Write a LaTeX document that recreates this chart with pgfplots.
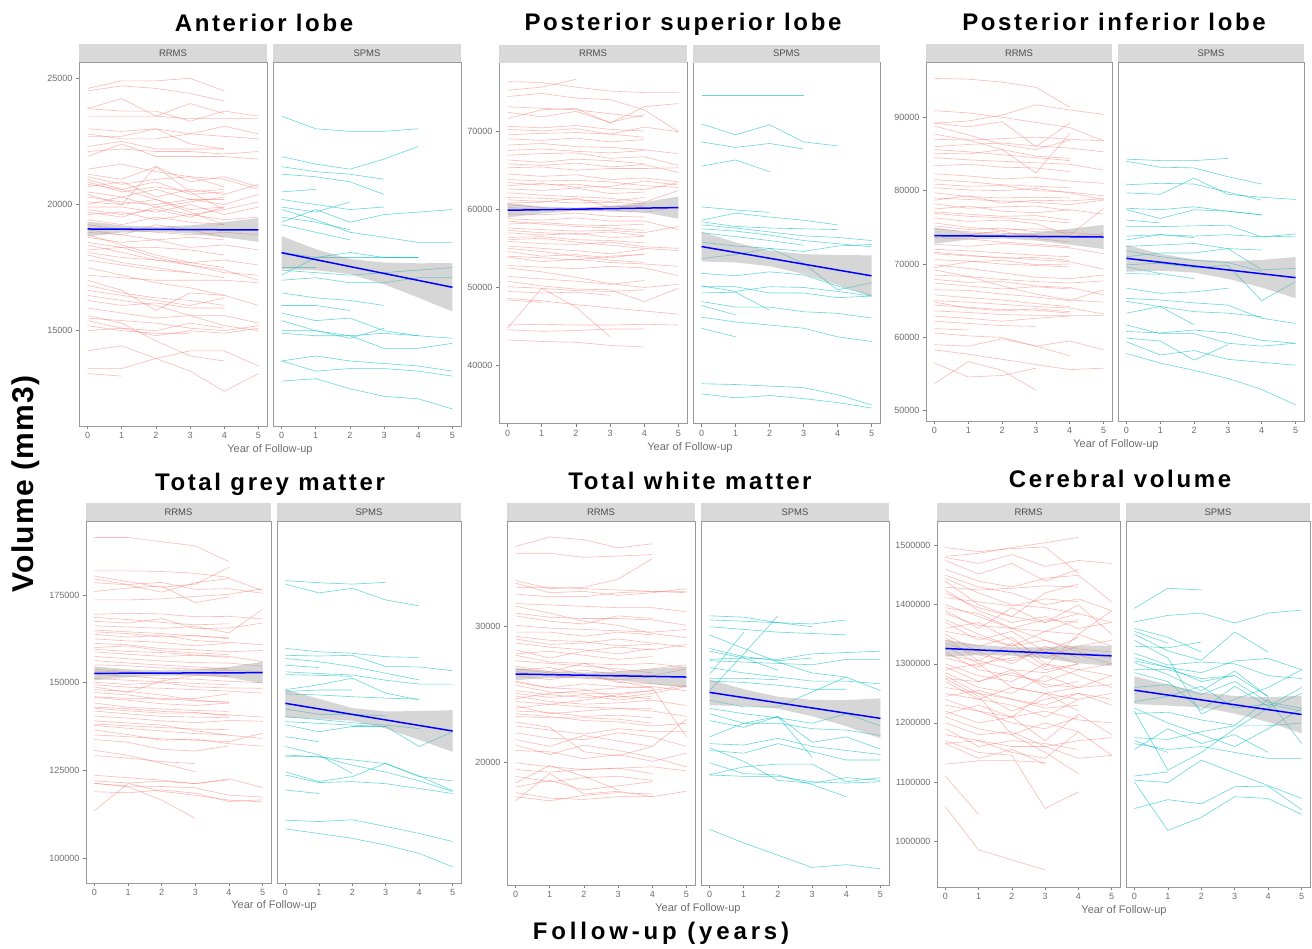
\documentclass[border=0pt]{standalone}
\usepackage{fontspec}
\setmainfont{Liberation Sans}
\newfontfamily\ttlfont{Liberation Sans}[LetterSpace=11]
\newfontfamily\volfont{Liberation Sans}[LetterSpace=4]
\newfontfamily\fufont{Liberation Sans}[LetterSpace=16]
\usepackage{pgfplots}
\pgfplotsset{compat=1.18}

\definecolor{rrc}{HTML}{F8766D}
\definecolor{spc}{HTML}{00BFC4}
\definecolor{stripc}{HTML}{D9D9D9}
\definecolor{stript}{HTML}{4D4D4D}
\definecolor{bordc}{HTML}{999999}
\definecolor{tickc}{HTML}{808080}
\definecolor{labc}{HTML}{6E6E6E}
\definecolor{grey60}{HTML}{999999}

\pgfplotsset{
  facet/.style={scale only axis, width=#1, xmin=-0.25, xmax=5.25,
    xtick={0,1,2,3,4,5}, xticklabels={0,1,2,3,4,5},
    tick pos=left, tick align=outside, major tick length=3pt,
    axis line style={draw=bordc, line width=0.6pt},
    tick style={draw=tickc, line width=0.6pt},
    tick label style={font=\fontsize{9}{10}\selectfont, text=labc},
    every axis title shift=0pt,
    title style={at={(0.5,1)}, anchor=south, fill=stripc,
      minimum width=#1, minimum height=18pt, inner sep=0pt,
      font=\fontsize{9.5}{10}\selectfont, text=stript},
    anchor=north west},
  rr/.style={draw=rrc, draw opacity=0.5, line width=0.6pt},
  sp/.style={draw=spc, draw opacity=0.6, line width=0.6pt},
  band/.style={draw=none, fill=grey60, fill opacity=0.4},
  fit/.style={draw=blue, line width=1.5pt},
}
\newcommand\rrl[1]{\addplot[rr] coordinates {#1};}
\newcommand\spl[1]{\addplot[sp] coordinates {#1};}

\begin{document}
\begin{tikzpicture}
\fill[white] (0pt,0pt) rectangle (1312pt,-948pt);
\path[use as bounding box] (0pt,0pt) rectangle (1312pt,-948pt);

% ---------------- Anterior lobe ----------------
\begin{axis}[facet=188pt, height=364pt, at={(79pt,-62pt)}, title={RRMS},
  ymin=11.224, ymax=25.646, ytick={15,20,25}, yticklabels={15000,20000,25000}]
\rrl{(0,24.6)(1,24.9)(2,24.9)(3,25.0)(4,24.5)}
\rrl{(0,24.5)(1,24.7)(2,24.6)(3,24.4)(4,24.1)}
\rrl{(0,23.8)(1,24.2)(2,23.5)(3,24.0)(4,23.6)}
\rrl{(0,23.8)(1,23.7)(2,23.7)(3,23.3)(4,23.7)(5,23.5)}
\rrl{(0,23.5)(1,23.5)(2,23.5)(3,23.4)(4,23.4)(5,23.4)}
\rrl{(0,23.0)(1,22.9)(2,23.0)(3,22.8)(4,23.1)(5,22.8)}
\rrl{(0,22.8)(1,22.6)(2,22.6)(3,22.8)(4,22.7)(5,22.6)}
\rrl{(0,22.7)(1,22.7)(2,23.0)(3,22.4)(4,22.2)}
\rrl{(0,22.3)(1,22.5)(2,22.2)(3,22.2)(4,22.2)}
\rrl{(0,21.9)(1,22.4)(2,21.9)(3,21.9)(4,21.9)(5,21.8)}
\rrl{(0,22.1)(1,22.2)(2,22.1)(3,22.1)(4,22.0)(5,22.1)}
\rrl{(0,21.4)(1,21.6)(2,21.3)(3,21.1)(4,21.0)(5,20.6)}
\rrl{(0,21.2)(1,21.0)(2,21.5)(3,20.9)(4,21.1)(5,20.7)}
\rrl{(0,21.1)(1,20.8)(2,21.0)(3,21.1)(4,20.7)}
\rrl{(0,20.9)(1,20.5)(2,20.7)(3,20.5)(4,20.6)}
\rrl{(0,20.7)(1,20.9)(2,20.3)(3,20.6)(4,20.4)(5,20.8)}
\rrl{(0,20.5)(1,20.3)(2,20.6)(3,20.2)(4,20.2)}
\rrl{(0,20.3)(1,20.1)(2,20.0)(3,20.2)(4,20.0)(5,20.4)}
\rrl{(0,20.1)(1,20.0)(2,20.2)(3,19.8)(4,19.9)}
\rrl{(0,19.9)(1,19.9)(2,19.7)(3,20.0)(4,19.6)(5,19.9)}
\rrl{(0,19.8)(1,19.6)(2,19.8)(3,19.5)(4,19.9)}
\rrl{(0,19.6)(1,19.7)(2,19.4)(3,19.6)(4,19.4)(5,19.5)}
\rrl{(0,19.4)(1,19.2)(2,19.5)(3,19.3)(4,19.2)}
\rrl{(0,19.2)(1,19.0)(2,18.9)(3,18.8)(4,18.9)(5,18.8)}
\rrl{(0,18.9)(1,18.8)(2,18.6)(3,18.7)(4,18.6)}
\rrl{(0,18.7)(1,18.5)(2,18.6)(3,18.3)(4,18.4)(5,18.2)}
\rrl{(0,18.5)(1,18.3)(2,18.3)(3,18.2)(4,18.0)}
\rrl{(0,18.1)(1,17.9)(2,17.8)(3,17.7)(4,17.8)(5,17.6)}
\rrl{(0,18.0)(1,17.7)(2,17.5)(3,17.3)(4,17.1)}
\rrl{(0,17.8)(1,17.6)(2,17.4)(3,17.3)}
\rrl{(0,17.5)(1,17.2)(2,16.9)(3,16.7)(4,16.4)(5,16.0)}
\rrl{(0,17.2)(1,17.1)(2,17.0)(3,17.0)(4,17.0)(5,16.9)}
\rrl{(0,16.8)(1,16.5)(2,16.3)(3,16.2)(4,16.0)}
\rrl{(0,16.6)(1,16.4)(2,16.2)(3,16.0)(4,16.3)}
\rrl{(0,16.2)(1,16.0)(2,16.1)(3,15.9)(4,15.9)}
\rrl{(0,15.9)(1,15.7)(2,15.5)(3,15.6)(4,15.6)(5,15.3)}
\rrl{(0,15.5)(1,15.4)(2,15.3)(3,15.1)(4,15.0)(5,15.2)}
\rrl{(0,15.4)(1,15.1)(2,15.0)(3,15.3)(4,15.1)}
\rrl{(0,15.2)(1,15.0)(2,14.9)(3,14.9)}
\rrl{(0,15.0)(1,15.1)(2,14.8)(3,15.0)(4,14.9)(5,15.1)}
\rrl{(0,14.2)(1,14.4)(2,13.9)(3,14.2)(4,14.2)(5,13.6)}
\rrl{(0,13.5)(1,13.5)(2,13.9)(3,13.4)(4,12.6)(5,13.3)}
\rrl{(0,13.3)(1,13.2)}
\rrl{(0,15.6)(1,15.3)(2,14.6)(3,14.0)(4,13.8)}
\rrl{(0,19.0)(1,18.8)(2,19.2)(3,19.0)(4,18.7)}
\rrl{(0,20.4)(1,20.0)(2,21.5)(3,20.5)(4,19.8)}
\rrl{(0,17.0)(1,16.6)(2,15.8)(3,16.5)(4,16.4)}
\rrl{(0,20.8)(1,20.6)(2,20.9)(3,20.4)(4,20.5)}
\rrl{(0,20.0)(1,20.3)(2,19.9)(3,20.1)(4,20.3)}
\rrl{(0,19.7)(1,19.5)(2,19.9)(3,19.6)(4,19.8)(5,20.1)}
\rrl{(0,18.4)(1,18.1)(2,17.8)(3,17.6)(4,17.4)(5,17.0)}
\rrl{(0,18.8)(1,18.4)(2,18.0)(3,17.7)(4,17.5)}
\rrl{(0,21.0)(1,20.6)(2,20.2)(3,19.7)(4,19.2)}
\rrl{(0,16.4)(1,16.2)(2,16.0)(3,15.6)(4,15.2)(5,15.0)}
\rrl{(0,18.2)(1,18.3)(2,17.9)(3,17.6)(4,17.3)(5,17.2)}
\addplot[band] coordinates {(0,19.33)(1,19.17)(2,19.12)(3,19.17)(4,19.30)(5,19.46)(5,18.52)(4,18.70)(3,18.85)(2,18.92)(1,18.89)(0,18.73)};
\addplot[fit] coordinates {(0,19.03)(5,18.99)};
\end{axis}

\begin{axis}[facet=188pt, height=364pt, at={(273pt,-62pt)}, title={SPMS},
  ymin=11.224, ymax=25.646, ytick=\empty]
\spl{(0,23.5)(1,23.0)(2,22.9)(3,22.9)(4,23.0)}
\spl{(0,21.9)(1,21.6)(2,21.4)(3,21.8)(4,22.3)}
\spl{(0,21.5)(1,21.3)(2,21.2)(3,21.0)}
\spl{(0,21.2)(1,21.1)(2,20.9)(3,20.4)}
\spl{(0,20.5)(1,20.6)}
\spl{(0,20.2)(1,20.0)(2,19.8)(3,19.9)}
\spl{(0,19.9)(1,19.7)(2,20.1)}
\spl{(0,19.8)(1,19.4)(2,18.9)(3,18.7)(4,18.5)(5,18.5)}
\spl{(0,19.5)(1,19.3)(2,19.0)}
\spl{(0,19.3)(1,19.8)(2,19.3)(3,19.6)(4,19.7)(5,19.8)}
\spl{(0,19.2)(1,18.9)(2,18.6)}
\spl{(0,18.1)(1,17.9)(2,17.9)(3,17.9)(4,17.9)}
\spl{(0,17.5)(1,17.5)}
\spl{(0,17.2)(1,17.9)(2,18.1)(3,17.9)(4,17.9)}
\spl{(0,17.4)(1,17.3)(2,17.2)(3,17.3)(4,17.4)(5,17.5)}
\spl{(0,17.0)(1,17.1)(2,16.9)(3,16.9)(4,17.1)(5,17.1)}
\spl{(0,16.5)(1,16.3)(2,16.2)(3,16.0)}
\spl{(0,16.0)(1,16.0)(2,15.8)}
\spl{(0,15.7)(1,15.4)(2,15.5)(3,15.0)(4,14.8)(5,14.7)}
\spl{(0,15.4)(1,15.0)(2,14.7)(3,15.1)}
\spl{(0,15.0)(1,15.0)(2,14.8)(3,14.3)(4,14.3)(5,14.5)}
\spl{(0,14.9)(1,14.8)(2,14.8)(3,14.9)(4,14.8)}
\spl{(0,13.8)(1,14.0)(2,13.8)(3,13.7)(4,13.6)(5,13.4)}
\spl{(0,13.8)(1,13.4)(2,13.5)(3,13.5)(4,13.4)(5,13.2)}
\spl{(0,13.0)(1,13.1)(2,12.7)(3,12.4)(4,12.3)(5,11.9)}
\addplot[band] coordinates {(0,18.75)(1,18.23)(2,17.84)(3,17.70)(4,17.67)(5,17.68)(5,15.76)(4,16.31)(3,16.84)(2,17.24)(1,17.40)(0,17.43)};
\addplot[fit] coordinates {(0,18.09)(5,16.72)};
\end{axis}

% ---------------- Posterior superior lobe ----------------
\begin{axis}[facet=188pt, height=361pt, at={(499pt,-62.7pt)}, title={RRMS},
  ymin=32.593, ymax=78.723, ytick={40,50,60,70}, yticklabels={40000,50000,60000,70000}]
\rrl{(0,75.2)(1,75.6)(2,76.6)}
\rrl{(0,76.3)(1,76.2)(2,75.6)(3,75.1)(4,74.9)(5,74.9)}
\rrl{(0,74.4)(1,74.8)(2,74.2)(3,74.0)(4,72.7)(5,69.9)}
\rrl{(0,73.1)(1,72.9)(2,72.7)(3,72.2)(4,71.8)}
\rrl{(0,71.6)(1,72.7)(2,72.9)(3,71.0)(4,73.1)(5,73.5)}
\rrl{(0,72.4)(1,71.8)(2,72.5)(3,71.1)(4,72.1)}
\rrl{(0,70.6)(1,70.4)(2,70.7)(3,70.2)(4,70.0)}
\rrl{(0,70.2)(1,70.0)(2,70.3)(3,69.6)(4,70.5)(5,69.9)}
\rrl{(0,69.5)(1,69.7)(2,69.8)(3,69.6)(4,69.2)}
\rrl{(0,68.2)(1,68.4)(2,68.0)(3,67.9)(4,67.6)(5,67.1)}
\rrl{(0,67.5)(1,67.7)(2,67.4)(3,67.2)(4,67.5)}
\rrl{(0,66.9)(1,67.1)(2,67.2)(3,66.5)(4,66.7)(5,65.6)}
\rrl{(0,66.3)(1,66.0)(2,66.4)(3,66.2)(4,65.8)}
\rrl{(0,65.3)(1,65.4)(2,65.0)(3,65.2)(4,65.2)(5,65.3)}
\rrl{(0,64.5)(1,64.2)(2,64.4)(3,63.8)(4,64.0)(5,63.5)}
\rrl{(0,63.8)(1,63.6)(2,63.7)(3,63.5)(4,63.0)(5,62.8)}
\rrl{(0,63.0)(1,63.3)(2,62.8)(3,62.9)(4,63.6)(5,63.1)}
\rrl{(0,62.6)(1,62.4)(2,62.7)(3,62.0)(4,62.2)}
\rrl{(0,62.1)(1,61.8)(2,61.6)(3,61.4)(4,60.9)(5,62.4)}
\rrl{(0,61.5)(1,61.4)(2,61.2)(3,61.0)(4,61.5)}
\rrl{(0,60.8)(1,60.9)(2,61.4)(3,60.3)(4,60.5)}
\rrl{(0,60.2)(1,60.0)(2,59.8)(3,59.9)(4,59.6)(5,60.3)}
\rrl{(0,59.4)(1,59.3)(2,59.5)(3,59.1)(4,59.0)}
\rrl{(0,58.8)(1,58.6)(2,58.9)(3,58.5)(4,58.5)(5,57.4)}
\rrl{(0,58.1)(1,58.3)(2,58.0)(3,57.9)(4,58.1)}
\rrl{(0,57.6)(1,57.4)(2,57.2)(3,57.3)(4,57.0)(5,57.8)}
\rrl{(0,57.0)(1,56.7)(2,56.9)(3,56.4)(4,56.5)}
\rrl{(0,56.4)(1,56.5)(2,56.1)(3,56.0)(4,55.7)}
\rrl{(0,55.9)(1,55.6)(2,55.5)(3,55.8)(4,55.2)(5,55.0)}
\rrl{(0,55.3)(1,55.0)(2,54.7)(3,54.3)(4,54.9)}
\rrl{(0,54.6)(1,54.0)(2,54.2)(3,53.8)(4,54.3)}
\rrl{(0,55.0)(1,54.6)(2,54.0)(3,53.5)(4,53.2)}
\rrl{(0,53.9)(1,53.3)(2,53.6)(3,53.2)(4,53.0)(5,52.7)}
\rrl{(0,52.8)(1,52.6)(2,52.4)(3,52.7)(4,52.5)(5,51.5)}
\rrl{(0,52.5)(1,52.0)(2,51.3)(3,50.5)(4,50.0)(5,50.4)}
\rrl{(0,51.4)(1,51.1)(2,50.8)(3,50.4)(4,50.9)}
\rrl{(0,50.8)(1,50.2)(2,49.8)(3,49.7)(4,48.2)(5,49.9)}
\rrl{(0,50.1)(1,49.9)(2,49.6)(3,49.5)(4,49.7)}
\rrl{(0,49.5)(1,49.3)(2,49.4)(3,49.0)}
\rrl{(0,48.4)(1,48.1)}
\rrl{(0,48.6)(1,48.3)(2,47.8)(3,47.4)(4,47.0)(5,46.6)}
\rrl{(0,44.8)(1,49.9)(2,47.5)(3,43.7)}
\rrl{(0,44.6)(1,44.4)(2,44.5)(3,44.7)(4,44.7)}
\rrl{(0,45.2)(1,45.3)(2,45.2)(3,45.2)(4,45.3)(5,45.2)}
\rrl{(0,43.3)(1,43.1)(2,43.0)(3,42.6)(4,42.4)}
\rrl{(0,60.6)(1,60.2)(2,60.0)(3,60.4)(4,60.3)}
\rrl{(0,57.3)(1,57.0)(2,56.8)(3,57.1)(4,56.6)}
\rrl{(0,69.0)(1,68.8)(2,69.1)(3,68.6)(4,68.9)}
\rrl{(0,65.8)(1,65.6)(2,65.9)(3,65.4)(4,65.7)(5,64.7)}
\rrl{(0,61.2)(1,61.0)(2,60.8)(3,60.9)(4,60.7)}
\rrl{(0,58.5)(1,58.1)(2,57.8)(3,57.6)(4,57.3)}
\rrl{(0,56.1)(1,56.3)(2,55.8)(3,55.4)(4,55.0)(5,54.7)}
\rrl{(0,54.0)(1,53.8)(2,53.5)(3,54.0)(4,54.2)}
\rrl{(0,63.4)(1,63.1)(2,63.2)(3,62.7)(4,62.5)(5,63.4)}
\addplot[band] coordinates {(0,60.80)(1,60.35)(2,60.20)(3,60.40)(4,60.90)(5,61.63)(5,58.79)(4,59.60)(3,59.70)(2,59.80)(1,59.46)(0,58.94)};
\addplot[fit] coordinates {(0,59.87)(5,60.21)};
\end{axis}

\begin{axis}[facet=187pt, height=361pt, at={(693pt,-62.7pt)}, title={SPMS},
  ymin=32.593, ymax=78.723, ytick=\empty]
\spl{(0,74.5)(1,74.5)(2,74.5)(3,74.5)}
\spl{(0,70.9)(1,69.5)(2,70.8)(3,68.6)(4,68.1)}
\spl{(0,68.6)(1,67.9)(2,68.4)(3,67.7)}
\spl{(0,65.5)(1,66.3)(2,64.8)}
\spl{(0,60.3)(1,59.9)(2,59.6)}
\spl{(0,58.6)(1,59.5)(2,59.0)(3,58.6)(4,58.0)}
\spl{(0,58.4)(1,57.8)(2,57.6)(3,57.5)(4,57.4)}
\spl{(0,58.0)(1,57.6)(2,57.1)(3,56.6)(4,56.4)(5,56.0)}
\spl{(0,57.5)(1,57.2)(2,56.7)(3,56.0)(4,55.6)(5,55.2)}
\spl{(0,57.0)(1,56.5)(2,56.0)(3,55.4)}
\spl{(0,55.8)(1,55.3)(2,55.0)(3,54.6)(4,55.3)(5,55.5)}
\spl{(0,53.7)(1,54.2)(2,55.0)(3,53.1)(4,49.7)(5,50.6)}
\spl{(0,51.8)(1,51.5)(2,52.0)(3,51.6)(4,50.2)(5,49.0)}
\spl{(0,50.1)(1,50.1)(2,49.3)(3,49.3)(4,48.7)(5,48.9)}
\spl{(0,49.3)(1,49.4)(2,47.1)}
\spl{(0,50.2)(1,49.5)(2,50.1)(3,50.0)(4,49.5)(5,48.9)}
\spl{(0,48.2)(1,47.5)(2,47.5)(3,46.9)(4,46.7)(5,46.1)}
\spl{(0,47.7)(1,46.5)}
\spl{(0,46.2)(1,45.6)(2,45.2)(3,44.8)(4,43.7)(5,43.1)}
\spl{(0,44.8)(1,43.7)}
\spl{(0,37.7)(1,37.6)(2,37.4)(3,37.2)(4,36.3)(5,35.0)}
\spl{(0,36.4)(1,35.9)(2,36.2)(3,35.8)(4,35.3)(5,34.6)}
\addplot[band] coordinates {(0,57.13)(1,55.76)(2,54.73)(3,54.27)(4,54.14)(5,54.11)(5,48.87)(4,50.34)(3,51.71)(2,52.73)(1,53.20)(0,53.33)};
\addplot[fit] coordinates {(0,55.23)(5,51.49)};
\end{axis}

% ---------------- Posterior inferior lobe ----------------
\begin{axis}[facet=186pt, height=359pt, at={(926pt,-62pt)}, title={RRMS},
  ymin=48.596, ymax=97.539, ytick={50,60,70,80,90}, yticklabels={50000,60000,70000,80000,90000}]
\rrl{(0,95.3)(1,95.2)(2,94.8)(3,94.1)(4,91.4)}
\rrl{(0,90.9)(1,90.6)(2,90.0)(3,89.3)(4,88.6)(5,86.8)}
\rrl{(0,89.2)(1,89.5)(2,90.3)(3,91.7)(4,91.0)(5,90.4)}
\rrl{(0,89.2)(1,88.7)(2,89.4)(3,86.0)(4,89.2)}
\rrl{(0,88.8)(1,87.6)(2,86.3)(3,85.6)(4,86.9)}
\rrl{(0,87.7)(1,86.9)(2,85.6)(3,82.4)(4,87.8)}
\rrl{(0,87.0)(1,86.9)(2,87.1)(3,87.3)(4,87.0)(5,86.8)}
\rrl{(0,86.0)(1,86.3)(2,86.5)(3,86.1)(4,85.8)(5,85.3)}
\rrl{(0,85.1)(1,85.0)(2,85.6)(3,84.7)(4,84.4)}
\rrl{(0,84.5)(1,84.2)(2,84.0)(3,83.8)(4,83.6)(5,82.8)}
\rrl{(0,83.4)(1,83.6)(2,83.2)(3,83.1)(4,82.6)}
\rrl{(0,82.3)(1,82.0)(2,81.6)(3,81.8)(4,81.3)(5,81.0)}
\rrl{(0,81.5)(1,81.2)(2,80.8)(3,80.6)(4,80.4)}
\rrl{(0,80.4)(1,80.1)(2,80.0)(3,80.3)(4,79.7)(5,78.8)}
\rrl{(0,79.7)(1,79.2)(2,79.0)(3,79.1)(4,79.0)}
\rrl{(0,79.0)(1,78.8)(2,78.6)(3,78.4)(4,78.1)(5,78.7)}
\rrl{(0,78.2)(1,77.6)(2,77.8)(3,77.9)(4,77.3)}
\rrl{(0,77.5)(1,77.9)(2,77.2)(3,77.0)(4,77.4)(5,76.8)}
\rrl{(0,76.9)(1,76.5)(2,76.3)(3,76.0)(4,75.6)}
\rrl{(0,76.3)(1,75.8)(2,76.0)(3,75.5)(4,73.9)(5,77.6)}
\rrl{(0,75.6)(1,75.0)(2,74.6)(3,74.8)(4,74.5)}
\rrl{(0,74.8)(1,74.4)(2,74.2)(3,74.0)(4,73.8)(5,74.1)}
\rrl{(0,73.6)(1,73.4)(2,73.0)(3,72.7)(4,72.4)}
\rrl{(0,72.7)(1,72.4)(2,72.8)(3,72.5)(4,72.2)(5,71.4)}
\rrl{(0,72.0)(1,71.8)(2,71.5)(3,71.2)(4,71.0)}
\rrl{(0,71.4)(1,71.1)(2,70.9)(3,70.6)(4,70.3)(5,69.3)}
\rrl{(0,70.6)(1,70.4)(2,70.0)(3,69.8)(4,69.6)}
\rrl{(0,69.9)(1,69.4)(2,68.8)(3,68.2)(4,68.0)(5,68.5)}
\rrl{(0,69.2)(1,68.3)(2,67.0)(3,65.9)(4,65.1)(5,64.8)}
\rrl{(0,68.5)(1,68.3)(2,67.9)(3,67.6)(4,67.4)(5,67.7)}
\rrl{(0,67.4)(1,67.0)(2,66.6)(3,66.9)(4,66.6)}
\rrl{(0,66.5)(1,66.4)(2,65.9)(3,65.5)(4,65.0)(5,66.5)}
\rrl{(0,65.8)(1,65.4)(2,65.1)(3,64.6)(4,64.2)}
\rrl{(0,65.0)(1,64.8)(2,64.5)(3,64.2)(4,64.0)(5,63.2)}
\rrl{(0,64.4)(1,64.1)(2,63.8)(3,63.7)(4,63.3)}
\rrl{(0,63.6)(1,63.4)(2,63.1)(3,63.0)(4,63.0)(5,63.0)}
\rrl{(0,62.9)(1,62.6)(2,62.2)(3,62.6)(4,62.9)}
\rrl{(0,62.2)(1,61.9)(2,61.6)(3,61.5)}
\rrl{(0,61.2)(1,61.0)}
\rrl{(0,59.0)(1,58.8)(2,59.8)(3,58.8)(4,59.5)(5,58.3)}
\rrl{(0,58.3)(1,57.7)(2,57.0)(3,56.3)(4,55.6)(5,55.8)}
\rrl{(0,56.5)(1,54.6)(2,54.8)(3,55.8)}
\rrl{(0,53.7)(1,56.7)(2,55.5)(3,52.8)}
\rrl{(0,60.6)(1,60.2)(2,60.0)(3,58.8)(4,57.5)}
\rrl{(0,73.8)(1,74.0)(2,74.5)(3,73.5)(4,73.0)}
\rrl{(0,78.7)(1,79.3)(2,78.3)(3,78.7)(4,78.6)(5,78.9)}
\rrl{(0,85.6)(1,85.3)(2,84.9)(3,84.5)(4,84.1)}
\rrl{(0,80.9)(1,80.6)(2,80.7)(3,80.0)(4,79.8)(5,79.3)}
\rrl{(0,77.1)(1,76.8)(2,76.5)(3,76.6)(4,76.0)}
\rrl{(0,75.2)(1,74.7)(2,74.9)(3,74.4)(4,74.3)(5,73.9)}
\rrl{(0,71.6)(1,71.2)(2,70.8)(3,70.9)(4,70.5)}
\rrl{(0,67.9)(1,67.5)(2,67.6)(3,67.0)(4,66.8)(5,65.8)}
\rrl{(0,64.8)(1,64.0)(2,63.6)(3,63.9)(4,63.5)}
\rrl{(0,69.5)(1,70.3)(2,70.5)(3,69.9)(4,70.0)}
\addplot[band] coordinates {(0,74.96)(1,74.30)(2,74.10)(3,74.30)(4,74.80)(5,75.33)(5,72.03)(4,72.64)(3,73.20)(2,73.48)(1,73.34)(0,72.76)};
\addplot[fit] coordinates {(0,73.86)(5,73.68)};
\end{axis}

\begin{axis}[facet=186pt, height=359pt, at={(1118pt,-62pt)}, title={SPMS},
  ymin=48.596, ymax=97.539, ytick=\empty]
\spl{(0,84.3)(1,84.1)(2,84.1)(3,84.4)}
\spl{(0,84.0)(1,83.2)(2,83.1)(3,81.9)(4,80.9)}
\spl{(0,80.8)(1,81.0)(2,80.9)(3,79.8)(4,78.7)}
\spl{(0,79.7)(1,79.5)(2,81.7)(3,79.5)(4,79.1)(5,78.8)}
\spl{(0,77.6)(1,77.4)(2,77.8)(3,77.2)(4,76.7)}
\spl{(0,77.4)(1,76.2)(2,77.4)(3,77.2)(4,76.7)}
\spl{(0,76.0)(1,75.6)}
\spl{(0,75.1)(1,75.1)(2,75.2)(3,75.3)(4,73.7)(5,74.1)}
\spl{(0,73.8)(1,74.0)(2,73.8)(3,74.0)(4,73.7)(5,73.8)}
\spl{(0,73.3)(1,74.0)(2,73.6)}
\spl{(0,72.4)(1,72.6)(2,72.8)(3,72.1)(4,71.9)}
\spl{(0,71.0)(1,71.5)(2,71.5)(3,72.1)(4,69.2)(5,69.4)}
\spl{(0,69.6)(1,68.7)(2,68.0)}
\spl{(0,68.7)(1,68.6)}
\spl{(0,66.7)(1,66.0)(2,66.2)(3,66.7)}
\spl{(0,65.3)(1,65.1)(2,64.7)(3,64.4)(4,62.6)(5,61.9)}
\spl{(0,64.9)(1,64.2)(2,61.7)}
\spl{(0,63.3)(1,64.2)(2,63.5)(3,63.3)(4,62.8)}
\spl{(0,61.7)(1,60.5)(2,60.5)(3,59.2)(4,58.8)(5,59.2)}
\spl{(0,60.8)(1,60.6)(2,61.0)(3,60.6)(4,59.6)(5,59.2)}
\spl{(0,59.9)(1,59.5)(2,56.9)(3,59.0)}
\spl{(0,59.4)(1,57.6)(2,58.2)(3,57.0)(4,56.6)(5,56.2)}
\spl{(0,57.8)(1,56.5)(2,55.5)(3,54.4)(4,52.9)(5,50.8)}
\spl{(0,69.9)(1,70.1)(2,69.5)(3,69.8)(4,65.0)(5,67.6)}
\spl{(0,71.8)(1,71.0)(2,70.5)(3,70.2)(4,69.0)}
\addplot[band] coordinates {(0,72.59)(1,71.40)(2,70.60)(3,70.40)(4,70.55)(5,70.94)(5,65.34)(4,66.79)(3,67.98)(2,68.84)(1,69.08)(0,68.95)};
\addplot[fit] coordinates {(0,70.77)(5,68.14)};
\end{axis}

% ---------------- Total grey matter ----------------
\begin{axis}[facet=185pt, height=362pt, at={(86pt,-521pt)}, title={RRMS},
  ymin=92.871, ymax=196.102, ytick={100,125,150,175}, yticklabels={100000,125000,150000,175000}]
\rrl{(0,191.4)(1,191.4)(2,190.2)(3,189.0)(4,184.5)}
\rrl{(0,181.9)(1,181.9)(2,181.7)(3,181.2)(4,180.0)}
\rrl{(0,180.4)(1,178.8)(2,177.2)(3,178.1)(4,182.9)}
\rrl{(0,178.5)(1,177.9)(2,175.8)(3,178.5)(4,179.7)(5,176.3)}
\rrl{(0,179.6)(1,178.0)(2,178.6)(3,176.6)(4,176.8)(5,175.5)}
\rrl{(0,176.0)(1,177.0)(2,177.6)(3,172.8)(4,174.5)}
\rrl{(0,173.6)(1,173.6)(2,173.9)(3,174.6)(4,175.2)(5,176.8)}
\rrl{(0,169.5)(1,169.8)(2,169.6)(3,168.8)(4,168.9)(5,168.2)}
\rrl{(0,168.6)(1,168.0)(2,167.2)(3,166.5)(4,166.8)}
\rrl{(0,167.5)(1,167.0)(2,168.3)(3,165.4)(4,165.6)(5,167.0)}
\rrl{(0,166.2)(1,165.9)(2,165.5)(3,166.0)(4,164.2)(5,170.9)}
\rrl{(0,165.0)(1,164.5)(2,164.0)(3,163.3)(4,162.8)}
\rrl{(0,163.8)(1,163.0)(2,163.5)(3,162.0)(4,161.5)(5,160.8)}
\rrl{(0,162.5)(1,161.9)(2,161.5)(3,160.5)(4,161.3)}
\rrl{(0,161.2)(1,160.8)(2,159.7)(3,159.4)(4,158.8)(5,159.2)}
\rrl{(0,160.0)(1,160.5)(2,159.1)(3,158.5)(4,158.0)}
\rrl{(0,158.8)(1,158.1)(2,157.5)(3,157.8)(4,157.2)}
\rrl{(0,157.5)(1,156.8)(2,156.2)(3,155.7)(4,155.6)(5,154.7)}
\rrl{(0,156.3)(1,155.6)(2,155.0)(3,154.5)(4,153.9)}
\rrl{(0,155.1)(1,154.8)(2,154.2)(3,153.9)(4,153.5)(5,153.2)}
\rrl{(0,153.8)(1,153.2)(2,152.5)(3,152.8)(4,152.0)}
\rrl{(0,152.4)(1,151.8)(2,151.2)(3,151.0)(4,150.4)(5,150.0)}
\rrl{(0,151.2)(1,150.7)(2,150.2)(3,149.8)(4,149.4)}
\rrl{(0,150.1)(1,149.5)(2,150.0)(3,148.8)(4,148.5)(5,148.4)}
\rrl{(0,148.8)(1,147.2)(2,150.5)(3,152.1)(4,154.0)}
\rrl{(0,148.0)(1,147.5)(2,146.5)(3,145.0)(4,144.4)}
\rrl{(0,147.2)(1,146.5)(2,145.2)(3,145.5)(4,146.8)}
\rrl{(0,145.8)(1,145.0)(2,144.0)(3,143.5)(4,144.2)}
\rrl{(0,144.2)(1,143.0)(2,142.5)(3,142.1)(4,141.8)}
\rrl{(0,143.0)(1,142.6)(2,141.8)(3,141.5)(4,140.5)}
\rrl{(0,141.9)(1,141.1)(2,140.4)(3,140.2)(4,140.0)}
\rrl{(0,140.5)(1,139.9)(2,139.1)(3,138.6)(4,139.2)(5,139.0)}
\rrl{(0,139.1)(1,138.5)(2,137.9)(3,136.3)(4,135.0)(5,134.1)}
\rrl{(0,137.8)(1,137.0)(2,136.2)(3,135.5)(4,135.1)}
\rrl{(0,136.5)(1,135.2)(2,133.6)(3,133.9)(4,132.6)(5,131.9)}
\rrl{(0,135.1)(1,134.6)(2,134.0)(3,133.6)(4,133.2)(5,135.6)}
\rrl{(0,133.8)(1,133.0)(2,131.0)(3,130.5)(4,132.0)}
\rrl{(0,130.7)(1,129.3)(2,127.0)(3,124.6)}
\rrl{(0,129.2)(1,128.5)(2,127.5)(3,126.9)}
\rrl{(0,123.6)(1,122.9)(2,122.2)(3,121.2)(4,122.6)(5,120.1)}
\rrl{(0,122.0)(1,121.4)(2,121.9)(3,121.2)(4,122.3)}
\rrl{(0,121.3)(1,120.5)(2,120.4)(3,120.0)(4,117.9)(5,117.4)}
\rrl{(0,113.5)(1,121.3)(2,119.0)(3,117.9)(4,116.5)(5,116.0)}
\rrl{(0,121.3)(1,120.3)(2,116.5)(3,111.3)}
\rrl{(0,118.9)(1,118.6)(2,119.4)(3,118.5)(4,116.1)(5,116.6)}
\rrl{(0,164.5)(1,164.0)(2,163.0)(3,163.5)(4,162.5)}
\rrl{(0,159.5)(1,158.9)(2,158.6)(3,157.9)(4,157.5)(5,156.0)}
\rrl{(0,153.3)(1,153.0)(2,152.6)(3,152.2)(4,151.7)}
\rrl{(0,149.4)(1,148.7)(2,148.4)(3,148.0)(4,147.6)(5,147.0)}
\rrl{(0,146.0)(1,145.5)(2,145.6)(3,144.8)(4,144.4)}
\rrl{(0,142.7)(1,142.0)(2,141.3)(3,141.4)(4,140.8)(5,140.2)}
\rrl{(0,138.2)(1,137.7)(2,137.2)(3,136.8)(4,136.6)}
\addplot[band] coordinates {(0,154.66)(1,153.80)(2,153.50)(3,153.80)(4,154.50)(5,155.95)(5,149.75)(4,151.50)(3,152.00)(2,152.00)(1,151.60)(0,150.66)};
\addplot[fit] coordinates {(0,152.66)(5,152.85)};
\end{axis}

\begin{axis}[facet=184pt, height=362pt, at={(277pt,-521pt)}, title={SPMS},
  ymin=92.871, ymax=196.102, ytick=\empty]
\spl{(0,179.1)(1,178.5)(2,178.1)(3,178.6)}
\spl{(0,178.1)(1,175.6)(2,176.9)(3,173.6)(4,171.9)}
\spl{(0,159.8)(1,158.8)(2,158.4)(3,157.4)(4,157.2)}
\spl{(0,157.8)(1,157.6)(2,157.8)(3,154.6)(4,154.5)(5,153.4)}
\spl{(0,156.9)(1,156.0)(2,154.6)(3,152.7)(4,150.8)}
\spl{(0,155.0)(1,154.3)}
\spl{(0,153.1)(1,152.6)(2,152.2)(3,150.7)(4,149.6)(5,149.6)}
\spl{(0,152.3)(1,152.1)(2,151.8)}
\spl{(0,148.0)(1,149.4)(2,151.3)(3,147.0)(4,145.1)}
\spl{(0,147.5)(1,147.9)(2,147.9)}
\spl{(0,146.8)(1,146.5)(2,146.0)(3,145.6)(4,145.3)}
\spl{(0,142.5)(1,141.0)(2,141.0)(3,140.5)}
\spl{(0,138.9)(1,138.4)(2,137.9)(3,137.5)(4,131.8)(5,136.0)}
\spl{(0,138.0)(1,136.0)(2,137.5)(3,137.5)}
\spl{(0,140.3)(1,139.5)(2,138.6)(3,137.9)(4,136.9)}
\spl{(0,134.6)(1,133.2)}
\spl{(0,131.8)(1,129.4)(2,124.1)}
\spl{(0,129.4)(1,128.8)(2,128.0)(3,126.9)(4,123.2)(5,122.0)}
\spl{(0,129.0)(1,129.0)(2,126.5)(3,124.5)(4,122.0)(5,119.0)}
\spl{(0,124.6)(1,121.8)(2,123.2)(3,127.0)(4,123.4)(5,119.2)}
\spl{(0,123.7)(1,121.5)(2,121.8)(3,121.2)(4,119.8)(5,118.4)}
\spl{(0,119.4)(1,118.4)}
\spl{(0,110.8)(1,110.4)(2,110.9)(3,109.0)(4,107.0)(5,104.7)}
\spl{(0,108.3)(1,107.0)(2,105.6)(3,103.7)(4,101.3)(5,97.5)}
\addplot[band] coordinates {(0,148.15)(1,145.40)(2,142.75)(3,141.80)(4,141.90)(5,142.16)(5,130.28)(4,133.70)(3,136.96)(2,139.15)(1,139.66)(0,140.07)};
\addplot[fit] coordinates {(0,144.11)(5,136.22)};
\end{axis}

% ---------------- Total white matter ----------------
\begin{axis}[facet=188pt, height=364pt, at={(507pt,-521pt)}, title={RRMS},
  ymin=11.007, ymax=37.772, ytick={20,30}, yticklabels={20000,30000}]
\rrl{(0,35.9)(1,36.6)(2,36.4)(3,35.8)(4,36.1)}
\rrl{(0,35.4)(1,35.4)(2,35.1)(3,35.2)(4,35.3)}
\rrl{(0,33.4)(1,32.8)(2,32.9)(3,33.5)(4,35.0)}
\rrl{(0,33.2)(1,32.5)(2,32.6)(3,32.3)(4,32.5)(5,32.8)}
\rrl{(0,32.9)(1,32.9)(2,32.8)(3,32.7)(4,32.6)(5,32.5)}
\rrl{(0,32.4)(1,32.2)(2,32.2)(3,32.5)(4,32.6)(5,32.6)}
\rrl{(0,31.7)(1,31.6)(2,31.5)(3,31.4)(4,31.4)(5,31.1)}
\rrl{(0,31.0)(1,30.7)(2,30.6)(3,30.6)(4,30.5)(5,30.1)}
\rrl{(0,30.8)(1,30.4)(2,30.2)(3,30.8)(4,30.6)}
\rrl{(0,30.1)(1,29.9)(2,29.8)(3,29.7)(4,29.6)(5,29.8)}
\rrl{(0,29.6)(1,29.6)(2,29.3)(3,29.6)(4,29.4)}
\rrl{(0,29.1)(1,28.7)(2,28.8)(3,29.1)(4,28.8)(5,28.5)}
\rrl{(0,28.8)(1,28.5)(2,28.3)(3,28.0)(4,28.4)}
\rrl{(0,28.3)(1,27.7)(2,28.2)(3,28.5)(4,28.3)(5,28.7)}
\rrl{(0,27.9)(1,27.4)(2,27.3)(3,27.2)(4,27.3)(5,27.0)}
\rrl{(0,27.5)(1,27.3)(2,27.1)(3,26.9)(4,26.6)}
\rrl{(0,27.1)(1,26.7)(2,27.3)(3,26.7)(4,26.9)(5,27.2)}
\rrl{(0,26.7)(1,26.4)(2,26.2)(3,26.1)(4,26.3)}
\rrl{(0,26.4)(1,26.1)(2,26.5)(3,25.9)(4,25.8)(5,25.6)}
\rrl{(0,26.0)(1,25.5)(2,25.8)(3,25.6)(4,25.5)}
\rrl{(0,25.7)(1,25.2)(2,25.1)(3,25.1)(4,25.3)(5,25.7)}
\rrl{(0,25.3)(1,25.0)(2,24.8)(3,24.9)(4,24.7)}
\rrl{(0,24.9)(1,24.5)(2,24.3)(3,24.4)(4,24.6)(5,24.2)}
\rrl{(0,24.5)(1,24.3)(2,24.1)(3,24.0)(4,24.0)}
\rrl{(0,24.2)(1,23.6)(2,23.8)(3,24.0)(4,23.8)(5,23.4)}
\rrl{(0,23.8)(1,23.7)(2,23.4)(3,23.5)(4,23.3)}
\rrl{(0,23.4)(1,23.3)(2,23.3)(3,23.2)(4,22.9)}
\rrl{(0,22.7)(1,22.4)(2,22.1)(3,22.5)(4,22.3)(5,22.3)}
\rrl{(0,22.2)(1,21.8)(2,21.7)(3,22.2)(4,21.9)(5,21.2)}
\rrl{(0,21.7)(1,21.2)(2,22.0)(3,21.6)(4,21.2)}
\rrl{(0,21.3)(1,20.6)(2,21.3)(3,20.9)(4,20.4)(5,19.7)}
\rrl{(0,20.9)(1,20.8)(2,20.3)(3,20.6)(4,20.1)(5,20.7)}
\rrl{(0,20.0)(1,19.7)(2,19.5)(3,19.6)(4,19.2)}
\rrl{(0,19.5)(1,19.3)(2,19.5)(3,19.6)(4,19.7)(5,19.4)}
\rrl{(0,19.0)(1,18.6)(2,18.9)(3,19.0)(4,18.7)}
\rrl{(0,18.5)(1,19.8)(2,19.0)(3,18.0)}
\rrl{(0,18.2)(1,18.7)(2,18.0)(3,18.3)(4,18.6)}
\rrl{(0,17.2)(1,19.2)(2,17.7)(3,17.9)(4,17.5)}
\rrl{(0,17.5)(1,17.2)(2,17.6)(3,17.8)(4,17.7)}
\rrl{(0,17.8)(1,17.4)(2,17.3)(3,17.5)(4,17.5)(5,17.9)}
\rrl{(0,23.0)(1,22.6)(2,20.8)(3,20.5)(4,21.2)(5,23.2)}
\rrl{(0,26.8)(1,27.0)(2,26.5)(3,26.0)(4,25.5)(5,21.9)}
\rrl{(0,31.5)(1,31.0)(2,30.4)(3,30.1)(4,29.5)(5,29.2)}
\rrl{(0,24.0)(1,24.3)(2,24.6)(3,25.0)(4,25.3)}
\rrl{(0,25.9)(1,25.5)(2,25.4)(3,24.8)(4,25.1)(5,25.6)}
\rrl{(0,28.0)(1,28.2)(2,27.9)(3,27.6)(4,27.8)}
\rrl{(0,26.9)(1,26.6)(2,26.8)(3,26.5)(4,26.4)(5,26.9)}
\rrl{(0,25.1)(1,24.8)(2,25.0)(3,24.6)(4,24.9)}
\rrl{(0,23.6)(1,23.4)(2,23.1)(3,23.0)(4,22.7)(5,22.9)}
\rrl{(0,29.3)(1,29.0)(2,28.9)(3,28.6)(4,28.7)}
\rrl{(0,24.7)(1,25.1)(2,25.3)(3,25.5)(4,25.6)(5,25.3)}
\addplot[band] coordinates {(0,26.97)(1,26.72)(2,26.63)(3,26.70)(4,26.90)(5,27.06)(5,25.54)(4,25.78)(3,26.08)(2,26.23)(1,26.24)(0,26.07)};
\addplot[fit] coordinates {(0,26.52)(5,26.30)};
\end{axis}

\begin{axis}[facet=188pt, height=364pt, at={(701pt,-521pt)}, title={SPMS},
  ymin=11.007, ymax=37.772, ytick=\empty]
\spl{(0,30.8)(1,30.7)(2,30.3)(3,30.0)}
\spl{(0,30.5)(1,30.4)(2,30.3)(3,30.2)(4,30.5)}
\spl{(0,30.0)(1,29.8)(2,29.6)(3,29.5)(4,29.4)}
\spl{(0,25.3)(1,28.0)(2,30.8)}
\spl{(0,26.5)(1,29.6)}
\spl{(0,28.4)(1,27.8)(2,27.5)(3,27.7)}
\spl{(0,28.2)(1,27.7)(2,26.8)}
\spl{(0,27.6)(1,27.7)(2,27.6)(3,28.0)(4,28.1)(5,28.2)}
\spl{(0,27.5)(1,27.4)(2,27.3)(3,27.2)(4,27.6)(5,27.6)}
\spl{(0,29.4)(1,28.4)(2,27.4)(3,26.6)(4,26.3)(5,25.3)}
\spl{(0,26.2)(1,26.2)(2,26.1)}
\spl{(0,26.0)(1,25.9)(2,25.7)(3,25.4)(4,25.4)}
\spl{(0,24.6)(1,24.1)(2,24.1)(3,25.2)(4,26.3)}
\spl{(0,24.0)(1,23.6)(2,23.3)(3,22.9)(4,23.6)(5,22.7)}
\spl{(0,23.6)(1,22.9)(2,22.9)(3,22.5)(4,22.4)(5,22.0)}
\spl{(0,23.1)(1,22.6)(2,23.4)(3,21.5)(4,21.9)(5,21.0)}
\spl{(0,21.9)(1,22.9)(2,23.4)(3,20.4)}
\spl{(0,21.4)(1,21.3)(2,21.8)(3,21.2)(4,20.9)(5,20.6)}
\spl{(0,20.9)(1,20.7)(2,21.4)(3,20.8)(4,20.2)(5,20.2)}
\spl{(0,20.0)(1,19.2)(2,19.1)(3,18.4)(4,17.5)}
\spl{(0,19.1)(1,19.0)(2,19.0)(3,18.6)(4,18.5)(5,18.6)}
\spl{(0,19.1)(1,19.7)(2,19.9)(3,19.9)(4,18.6)(5,18.9)}
\spl{(0,21.1)(1,20.1)(2,18.7)(3,18.5)(4,18.9)(5,18.7)}
\spl{(0,15.1)(1,14.1)(2,13.2)(3,12.3)(4,12.5)(5,12.2)}
\spl{(0,27.0)(1,26.6)(2,26.3)(3,26.0)(4,26.0)(5,25.8)}
\addplot[band] coordinates {(0,26.12)(1,25.40)(2,24.85)(3,24.62)(4,24.60)(5,24.73)(5,21.79)(4,22.68)(3,23.42)(2,23.97)(1,24.18)(0,24.22)};
\addplot[fit] coordinates {(0,25.17)(5,23.26)};
\end{axis}

% ---------------- Cerebral volume ----------------
\begin{axis}[facet=183pt, height=366pt, at={(937pt,-521pt)}, title={RRMS},
  ymin=922.126, ymax=1541.815, ytick={1000,1100,1200,1300,1400,1500},
  yticklabels={1000000,1100000,1200000,1300000,1400000,1500000}]
\rrl{(0,1497)(1,1490)(2,1495)(3,1498)(4,1453)}
\rrl{(0,1482)(1,1487)(2,1497)(3,1505)(4,1514)}
\rrl{(0,1480)(1,1470)(2,1485)(3,1465)(4,1475)(5,1470)}
\rrl{(0,1475)(1,1452)(2,1470)(3,1440)(4,1460)}
\rrl{(0,1460)(1,1440)(2,1430)(3,1445)(4,1450)(5,1405)}
\rrl{(0,1450)(1,1430)(2,1420)(3,1400)(4,1410)(5,1390)}
\rrl{(0,1440)(1,1400)(2,1380)(3,1420)(4,1435)}
\rrl{(0,1430)(1,1425)(2,1428)(3,1432)(4,1430)}
\rrl{(0,1420)(1,1395)(2,1380)(3,1370)(4,1400)(5,1350)}
\rrl{(0,1412)(1,1405)(2,1398)(3,1410)(4,1405)}
\rrl{(0,1400)(1,1380)(2,1360)(3,1340)(4,1320)(5,1310)}
\rrl{(0,1390)(1,1360)(2,1395)(3,1370)(4,1385)(5,1370)}
\rrl{(0,1385)(1,1365)(2,1360)(3,1375)(4,1370)}
\rrl{(0,1375)(1,1350)(2,1330)(3,1355)(4,1350)(5,1390)}
\rrl{(0,1370)(1,1340)(2,1355)(3,1320)(4,1345)}
\rrl{(0,1360)(1,1370)(2,1340)(3,1310)(4,1330)(5,1340)}
\rrl{(0,1350)(1,1320)(2,1300)(3,1330)(4,1310)}
\rrl{(0,1340)(1,1330)(2,1345)(3,1300)(4,1290)(5,1300)}
\rrl{(0,1330)(1,1300)(2,1310)(3,1320)(4,1300)}
\rrl{(0,1320)(1,1290)(2,1280)(3,1270)(4,1290)(5,1280)}
\rrl{(0,1310)(1,1295)(2,1320)(3,1290)(4,1300)}
\rrl{(0,1300)(1,1280)(2,1270)(3,1300)(4,1280)(5,1260)}
\rrl{(0,1295)(1,1270)(2,1290)(3,1260)(4,1270)}
\rrl{(0,1290)(1,1300)(2,1260)(3,1250)(4,1240)(5,1250)}
\rrl{(0,1285)(1,1260)(2,1250)(3,1280)(4,1260)}
\rrl{(0,1280)(1,1250)(2,1240)(3,1230)(4,1250)(5,1240)}
\rrl{(0,1270)(1,1240)(2,1260)(3,1250)(4,1220)}
\rrl{(0,1260)(1,1250)(2,1220)(3,1240)(4,1250)(5,1230)}
\rrl{(0,1250)(1,1240)(2,1230)(3,1210)(4,1240)}
\rrl{(0,1240)(1,1220)(2,1210)(3,1250)(4,1260)(5,1280)}
\rrl{(0,1230)(1,1220)(2,1200)(3,1190)(4,1210)}
\rrl{(0,1220)(1,1200)(2,1210)(3,1170)(4,1215)(5,1180)}
\rrl{(0,1210)(1,1190)(2,1180)(3,1200)(4,1185)}
\rrl{(0,1200)(1,1180)(2,1185)(3,1160)(4,1170)(5,1175)}
\rrl{(0,1190)(1,1160)(2,1170)(3,1165)(4,1155)}
\rrl{(0,1180)(1,1170)(2,1150)(3,1140)(4,1185)(5,1145)}
\rrl{(0,1165)(1,1140)(2,1155)(3,1130)}
\rrl{(0,1130)(1,1136)(2,1136)(3,1133)}
\rrl{(0,1110)(1,1045)}
\rrl{(0,1058)(1,985)(2,968)(3,951)}
\rrl{(0,1170)(1,1150)(2,1145)(3,1055)(4,1083)}
\rrl{(0,1165)(1,1170)(2,1160)(3,1160)(4,1140)(5,1145)}
\rrl{(0,1275)(1,1245)(2,1180)(3,1150)(4,1114)}
\rrl{(0,1345)(1,1305)(2,1335)(3,1295)(4,1350)(5,1330)}
\rrl{(0,1425)(1,1390)(2,1370)(3,1380)(4,1360)(5,1370)}
\rrl{(0,1355)(1,1345)(2,1330)(3,1340)(4,1325)(5,1320)}
\rrl{(0,1315)(1,1305)(2,1290)(3,1285)(4,1300)}
\rrl{(0,1275)(1,1270)(2,1285)(3,1265)(4,1260)(5,1265)}
\rrl{(0,1245)(1,1255)(2,1240)(3,1225)(4,1230)}
\rrl{(0,1215)(1,1230)(2,1210)(3,1220)(4,1205)(5,1200)}
\rrl{(0,1395)(1,1385)(2,1360)(3,1355)(4,1375)}
\rrl{(0,1335)(1,1315)(2,1305)(3,1325)(4,1315)(5,1300)}
\rrl{(0,1445)(1,1420)(2,1400)(3,1395)(4,1385)}
\addplot[band] coordinates {(0,1340)(1,1332)(2,1328)(3,1328)(4,1331)(5,1330.5)(5,1296.5)(4,1301)(3,1309)(2,1314)(1,1315)(0,1312)};
\addplot[fit] coordinates {(0,1326.0)(5,1313.5)};
\end{axis}

\begin{axis}[facet=184pt, height=366pt, at={(1126pt,-521pt)}, title={SPMS},
  ymin=922.126, ymax=1541.815, ytick=\empty]
\spl{(0,1394)(1,1428)(2,1425)}
\spl{(0,1371)(1,1382)(2,1386)(3,1369)(4,1386)(5,1391)}
\spl{(0,1360)(1,1345)(2,1320)}
\spl{(0,1355)(1,1335)}
\spl{(0,1350)(1,1322)(2,1306)(3,1354)(4,1320)}
\spl{(0,1330)(1,1327)(2,1337)}
\spl{(0,1318)(1,1298)(2,1303)(3,1300)(4,1280)(5,1275)}
\spl{(0,1310)(1,1294)(2,1285)(3,1305)(4,1309)(5,1290)}
\spl{(0,1305)(1,1294)(2,1270)(3,1280)(4,1245)}
\spl{(0,1302)(1,1282)(2,1254)(3,1288)(4,1244)}
\spl{(0,1290)(1,1290)(2,1275)(3,1280)}
\spl{(0,1285)(1,1270)(2,1222)(3,1262)(4,1228)(5,1260)}
\spl{(0,1260)(1,1265)(2,1248)(3,1270)(4,1235)(5,1225)}
\spl{(0,1236)(1,1245)(2,1262)(3,1225)(4,1232)(5,1220)}
\spl{(0,1216)(1,1218)(2,1205)(3,1196)(4,1240)(5,1165)}
\spl{(0,1175)(1,1172)(2,1185)(3,1195)(4,1195)(5,1200)}
\spl{(0,1165)(1,1155)(2,1160)(3,1150)(4,1140)(5,1140)}
\spl{(0,1155)(1,1190)(2,1165)(3,1180)(4,1150)}
\spl{(0,1170)(1,1150)}
\spl{(0,1220)(1,1120)(2,1150)(3,1190)(4,1225)(5,1250)}
\spl{(0,1103)(1,1099)(2,1137)(3,1115)(4,1094)(5,1072)}
\spl{(0,1055)(1,1070)(2,1063)(3,1092)(4,1093)(5,1053)}
\spl{(0,1100)(1,1018)(2,1040)(3,1075)(4,1072)(5,1045)}
\spl{(0,1110)(1,1117)}
\spl{(0,1225)(1,1200)(2,1180)(3,1160)(4,1190)(5,1225)}
\spl{(0,1340)(1,1310)(2,1215)(3,1240)(4,1260)(5,1290)}
\addplot[band] coordinates {(0,1278.8)(1,1265.0)(2,1251.5)(3,1245.5)(4,1243.5)(5,1246.1)(5,1182.3)(4,1201.3)(3,1215.9)(2,1226.3)(1,1229.4)(0,1232.0)};
\addplot[fit] coordinates {(0,1255.4)(5,1214.2)};
\end{axis}

% ---------------- titles and shared labels ----------------
\begin{scope}[every node/.style={anchor=base, inner sep=0pt}]
\node[font=\ttlfont\bfseries\fontsize{24}{24}\selectfont] at (264pt,-31pt) {Anterior lobe};
\node[font=\ttlfont\bfseries\fontsize{24}{24}\selectfont] at (683pt,-30pt) {Posterior superior lobe};
\node[font=\ttlfont\bfseries\fontsize{24}{24}\selectfont] at (1114pt,-30pt) {Posterior inferior lobe};
\node[font=\ttlfont\bfseries\fontsize{24}{24}\selectfont] at (270pt,-490pt) {Total grey matter};
\node[font=\ttlfont\bfseries\fontsize{24}{24}\selectfont] at (690pt,-489pt) {Total white matter};
\node[font=\ttlfont\bfseries\fontsize{24}{24}\selectfont] at (1120pt,-487pt) {Cerebral volume};
\node[font=\fontsize{11}{11}\selectfont, text=labc] at (270pt,-452pt) {Year of Follow-up};
\node[font=\fontsize{11}{11}\selectfont, text=labc] at (690pt,-450pt) {Year of Follow-up};
\node[font=\fontsize{11}{11}\selectfont, text=labc] at (1116pt,-447pt) {Year of Follow-up};
\node[font=\fontsize{11}{11}\selectfont, text=labc] at (274pt,-908pt) {Year of Follow-up};
\node[font=\fontsize{11}{11}\selectfont, text=labc] at (698pt,-911pt) {Year of Follow-up};
\node[font=\fontsize{11}{11}\selectfont, text=labc] at (1124pt,-913pt) {Year of Follow-up};
\node[font=\fufont\bfseries\fontsize{24}{24}\selectfont] at (661pt,-939pt) {Follow-up (years)};
\node[font=\volfont\bfseries\fontsize{30}{30}\selectfont, rotate=90] at (33pt,-484pt) {Volume (mm3)};
\end{scope}
\end{tikzpicture}
\end{document}
